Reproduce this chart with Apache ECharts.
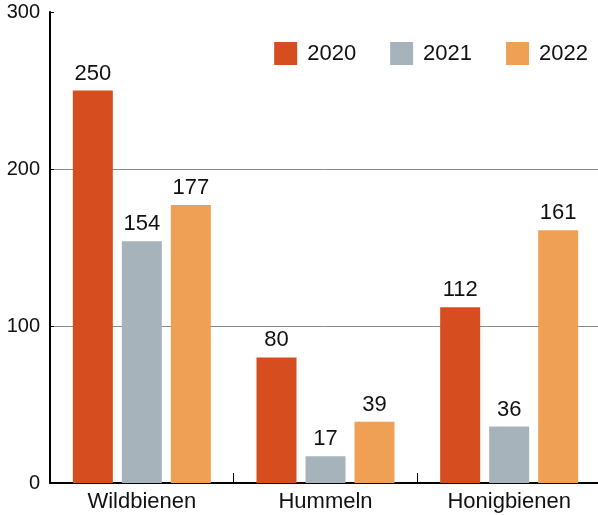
<!DOCTYPE html>
<html>
<head>
<meta charset="utf-8">
<script src="https://cdn.jsdelivr.net/npm/echarts@6/dist/echarts.min.js"></script>
<style>
  html, body { margin: 0; padding: 0; background: #fff; }
  #chart { width: 598px; height: 515px; }
</style>
</head>
<body>
<div id="chart"></div>
<script>
// Daten aus der Grafik
var categories = ['Wildbienen', 'Hummeln', 'Honigbienen'];
var years = ['2020', '2021', '2022'];
var values2020 = [250, 80, 112];
var values2021 = [154, 17, 36];
var values2022 = [177, 39, 161];
var yTicks = [0, 100, 200, 300];

var colors = ['#D64D1F', '#A6B3BA', '#F0A055'];
var font = 'Liberation Sans, Helvetica, Arial, sans-serif';

function makeSeries(name, data, color) {
	return {
		name: name,
		type: 'bar',
		data: data,
		barWidth: 40,
		barGap: '22.5%',
		itemStyle: { color: color },
		label: {
			show: true,
			position: 'top',
			distance: 6,
			color: '#111',
			fontFamily: font,
			fontSize: 22
		}
	};
}

var myChart = echarts.init(document.getElementById('chart'));
var option = {
	animation: false,
	textStyle: { fontFamily: font },
	legend: {
		right: 5,
		top: 37,
		icon: 'rect',
		itemWidth: 23,
		itemHeight: 23,
		itemGap: 34,
		textStyle: { color: '#111', fontSize: 22, fontFamily: font, padding: [0, 0, 0, 5] },
		data: years
	},
	grid: {
		left: 50,
		width: 551,
		top: 12,
		bottom: 32,
		outerBoundsMode: 'none'
	},
	xAxis: {
		type: 'category',
		data: categories,
		axisLine: { lineStyle: { color: '#000', width: 2 } },
		axisTick: {
			show: true,
			inside: true,
			length: 10,
			lineStyle: { color: '#000', width: 1 }
		},
		axisLabel: { color: '#111', fontSize: 22, fontFamily: font, margin: 8 }
	},
	yAxis: {
		type: 'value',
		min: yTicks[0],
		max: yTicks[yTicks.length - 1],
		interval: 100,
		axisLine: { show: true, lineStyle: { color: '#000', width: 2 } },
		axisTick: { show: true, inside: true, length: 4, lineStyle: { color: '#000' } },
		axisLabel: { color: '#111', fontSize: 20, fontFamily: font, margin: 10 },
		splitLine: {
			show: true,
			lineStyle: { color: ['#888', '#888', '#888', 'rgba(0,0,0,0)'], width: 1 }
		}
	},
	series: [
		makeSeries(years[0], values2020, colors[0]),
		makeSeries(years[1], values2021, colors[1]),
		makeSeries(years[2], values2022, colors[2])
	]
};
myChart.setOption(option);
</script>
</body>
</html>
